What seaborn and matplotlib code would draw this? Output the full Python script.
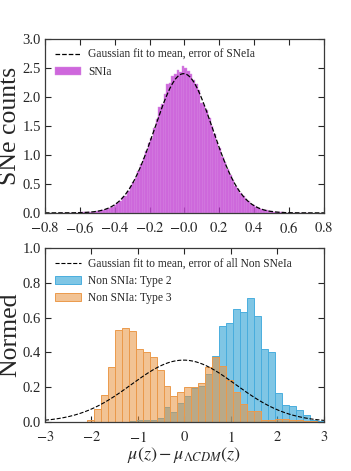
import numpy as np
import pandas as pd
import seaborn as sns
import matplotlib
matplotlib.use("Agg")
import matplotlib.pyplot as plt
from matplotlib.ticker import FuncFormatter

# --- top panel: SNIa residual histogram (normed), bins of width 0.015 from -0.72
snia_bin_start = -0.72
snia_bin_width = 0.015
snia_heights = [
    0.0, 0.0, 0.003, 0.0, 0.004, 0.003, 0.006, 0.005, 0.008, 0.010,
    0.009, 0.013, 0.016, 0.022, 0.025, 0.034, 0.042, 0.055, 0.072, 0.090,
    0.105, 0.140, 0.175, 0.200, 0.270, 0.300, 0.380, 0.460, 0.530, 0.600,
    0.730, 0.840, 0.950, 1.060, 1.200, 1.300, 1.460, 1.620, 1.820, 1.880,
    2.060, 2.220, 2.240, 2.360, 2.400, 2.460, 2.440, 2.530, 2.500, 2.450,
    2.400, 2.300, 2.220, 2.120, 1.900, 1.860, 1.780, 1.630, 1.500, 1.370,
    1.220, 1.120, 0.960, 0.880, 0.760, 0.660, 0.570, 0.470, 0.420, 0.340,
    0.300, 0.240, 0.200, 0.160, 0.130, 0.110, 0.085, 0.070, 0.052, 0.042,
    0.030, 0.025, 0.018, 0.014, 0.011, 0.008, 0.006, 0.005, 0.003, 0.004,
    0.002, 0.002, 0.0, 0.001, 0.0, 0.0,
]
snia_fit_mean = -0.005
snia_fit_sigma = 0.166

# --- bottom panel: non-SNIa residuals, bins of width 0.15 from -3 to 3
non_bin_start = -3.0
non_bin_width = 0.15
type2_heights = [
    0.0, 0.0, 0.0, 0.0, 0.0, 0.0, 0.0, 0.0, 0.0, 0.0,
    0.0, 0.0, 0.005, 0.010, 0.010, 0.012, 0.023, 0.084, 0.059, 0.111,
    0.149, 0.193, 0.207, 0.276, 0.380, 0.552, 0.571, 0.653, 0.634, 0.714,
    0.608, 0.418, 0.402, 0.166, 0.100, 0.091, 0.068, 0.041, 0.013, 0.006,
]
type3_heights = [
    0.0, 0.0, 0.0, 0.0, 0.0, 0.002, 0.013, 0.076, 0.157, 0.318,
    0.530, 0.540, 0.525, 0.418, 0.405, 0.375, 0.300, 0.207, 0.150, 0.172,
    0.200, 0.200, 0.222, 0.318, 0.372, 0.322, 0.240, 0.175, 0.103, 0.063,
    0.063, 0.012, 0.012, 0.018, 0.015, 0.012, 0.010, 0.005, 0.005, 0.0,
]
non_fit_mean = -0.02
non_fit_sigma = 1.12


def bin_frame(start, width, heights):
    n = len(heights)
    centers = start + width * (np.arange(n) + 0.5)
    return pd.DataFrame({"x": centers, "w": heights}), (start, start + width * n)


def gauss(x, mu, sigma):
    return np.exp(-0.5 * ((x - mu) / sigma) ** 2) / (sigma * np.sqrt(2 * np.pi))


def math_fmt(decimals):
    return FuncFormatter(lambda v, _: f"${v:.{decimals}f}$")


sns.set_style("ticks", {
    "xtick.direction": "in", "ytick.direction": "in",
    "xtick.top": True, "ytick.right": True,
    "axes.edgecolor": "#3a3a3a",
})
plt.rcParams["font.family"] = ["Liberation Serif", "DejaVu Serif"]
plt.rcParams["mathtext.fontset"] = "stix"
plt.rcParams["xtick.major.size"] = 4.5
plt.rcParams["ytick.major.size"] = 4.5

fig = plt.figure(figsize=(3.51, 4.71), dpi=100)
ax1 = fig.add_axes([0.128, 0.548, 0.795, 0.369])
ax2 = fig.add_axes([0.128, 0.104, 0.795, 0.369])

leg_kw = dict(loc="upper left", frameon=False, fontsize=8.3, handlelength=2.3,
              handletextpad=0.6, borderaxespad=0.45, labelspacing=0.45)

# top
df, rng = bin_frame(snia_bin_start, snia_bin_width, snia_heights)
xs = np.linspace(-0.8, 0.8, 400)
sns.lineplot(x=xs, y=gauss(xs, snia_fit_mean, snia_fit_sigma), ax=ax1,
             color="black", linestyle="--", linewidth=0.9,
             label="Gaussian fit to mean, error of SNeIa")
sns.histplot(data=df, x="x", weights="w", binwidth=snia_bin_width, binrange=rng,
             ax=ax1, color="#bb2ccf", alpha=0.72, edgecolor="#d890e2",
             linewidth=0.3, label="SNIa")
ax1.set_xlim(-0.8, 0.8)
ax1.set_ylim(0, 3.0)
ax1.set_xticks(np.arange(-0.8, 0.81, 0.2))
ax1.set_yticks(np.arange(0, 3.01, 0.5))
ax1.xaxis.set_major_formatter(math_fmt(1))
ax1.set_xlabel("")
ax1.set_ylabel("SNe counts", fontsize=18.5, labelpad=1)
ax1.legend(**leg_kw)

# bottom
df2, rng = bin_frame(non_bin_start, non_bin_width, type2_heights)
df3, _ = bin_frame(non_bin_start, non_bin_width, type3_heights)
xs = np.linspace(-3, 3, 400)
sns.lineplot(x=xs, y=gauss(xs, non_fit_mean, non_fit_sigma), ax=ax2,
             color="black", linestyle="--", linewidth=0.8,
             label="Gaussian fit to mean, error of all Non SNeIa")
sns.histplot(data=df2, x="x", weights="w", binwidth=non_bin_width, binrange=rng,
             ax=ax2, color="#3aa8d8", alpha=0.65, edgecolor="#4aaede",
             linewidth=0.7, label="Non SNIa: Type 2")
sns.histplot(data=df3, x="x", weights="w", binwidth=non_bin_width, binrange=rng,
             ax=ax2, color="#e9923d", alpha=0.55, edgecolor="#eb9a4c",
             linewidth=0.7, label="Non SNIa: Type 3")
ax2.set_xlim(-3, 3)
ax2.set_ylim(0, 1.0)
ax2.set_xticks(np.arange(-3, 3.1, 1))
ax2.set_yticks(np.arange(0, 1.01, 0.2))
ax2.xaxis.set_major_formatter(math_fmt(0))
ax2.set_ylabel("Normed", fontsize=18.5, labelpad=1)
ax2.set_xlabel(r"$\mu(z) - \mu_{\Lambda CDM}(z)$", fontsize=13, labelpad=0)
ax2.legend(**leg_kw)

for ax in (ax1, ax2):
    ax.tick_params(labelsize=10.5, top=True, right=True, direction="in")
    ax.tick_params(axis="x", pad=5.5)
    ax.tick_params(axis="y", pad=3)
    for s in ax.spines.values():
        s.set_linewidth(0.9)

fig.savefig("out.png", dpi=100)
